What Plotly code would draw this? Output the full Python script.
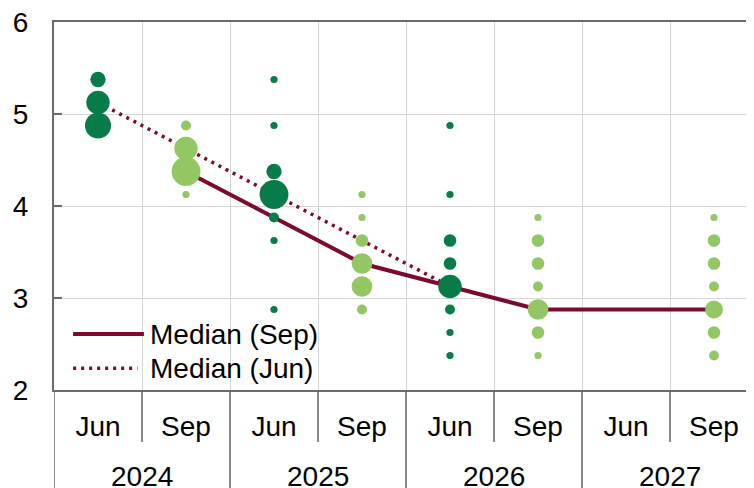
import plotly.graph_objects as go

# ---- data ----
categories = ["Jun 2024", "Sep 2024", "Jun 2025", "Sep 2025",
              "Jun 2026", "Sep 2026", "Jun 2027", "Sep 2027"]
month_labels = ["Jun", "Sep", "Jun", "Sep", "Jun", "Sep", "Jun", "Sep"]
year_labels = ["2024", "2025", "2026", "2027"]

# dot plot: rate levels and number of participants at each level
jun_2024_rates = [5.375, 5.125, 4.875]
jun_2024_counts = [4, 7, 8]
sep_2024_rates = [4.875, 4.625, 4.375, 4.125]
sep_2024_counts = [2, 7, 9, 1]
jun_2025_rates = [5.375, 4.875, 4.375, 4.125, 3.875, 3.625, 2.875]
jun_2025_counts = [1, 1, 4, 9, 2, 1, 1]
sep_2025_rates = [4.125, 3.875, 3.625, 3.375, 3.125, 2.875]
sep_2025_counts = [1, 1, 3, 6, 6, 2]
jun_2026_rates = [4.875, 4.125, 3.625, 3.375, 3.125, 2.875, 2.625, 2.375]
jun_2026_counts = [1, 1, 3, 3, 7, 2, 1, 1]
sep_2026_rates = [3.875, 3.625, 3.375, 3.125, 2.875, 2.625, 2.375]
sep_2026_counts = [1, 3, 3, 2, 6, 3, 1]
sep_2027_rates = [3.875, 3.625, 3.375, 3.125, 2.875, 2.625, 2.375]
sep_2027_counts = [1, 3, 3, 2, 5, 3, 2]

median_sep_x = ["Sep 2024", "Sep 2025", "Sep 2026", "Sep 2027"]
median_sep = [4.375, 3.375, 2.875, 2.875]
median_jun_x = ["Jun 2024", "Jun 2025", "Jun 2026"]
median_jun = [5.125, 4.125, 3.125]

# ---- style ----
DARK = "#077C48"
LIGHT = "#93C764"
LINE = "#7A0A2E"
AXIS = "#6B6B6B"
GRID = "#D4D6D9"
FONT = "Liberation Sans, Arial, sans-serif"
FS = 28


def dot_size(counts):
    return [4.5 + 2.7 * c for c in counts]


fig = go.Figure()

fig.add_trace(go.Scatter(x=median_jun_x, y=median_jun, mode="lines", name="Median (Jun)",
                         line=dict(color=LINE, width=3.5, dash="3px,5px"), showlegend=False))
fig.add_trace(go.Scatter(x=median_sep_x, y=median_sep, mode="lines", name="Median (Sep)",
                         line=dict(color=LINE, width=4), showlegend=False))

columns = [
    ("Jun 2024", jun_2024_rates, jun_2024_counts, DARK),
    ("Sep 2024", sep_2024_rates, sep_2024_counts, LIGHT),
    ("Jun 2025", jun_2025_rates, jun_2025_counts, DARK),
    ("Sep 2025", sep_2025_rates, sep_2025_counts, LIGHT),
    ("Jun 2026", jun_2026_rates, jun_2026_counts, DARK),
    ("Sep 2026", sep_2026_rates, sep_2026_counts, LIGHT),
    ("Sep 2027", sep_2027_rates, sep_2027_counts, LIGHT),
]
for cat, rates, counts, col in columns:
    fig.add_trace(go.Scatter(
        x=[cat] * len(rates), y=rates, mode="markers", name=cat,
        marker=dict(size=dot_size(counts), color=col, line=dict(width=0), opacity=1),
        showlegend=False))

shapes = []
# short separators between months, long separators between years
for i in range(len(categories)):
    b = i - 0.5
    long_sep = (i % 2 == 0)
    shapes.append(dict(type="line", xref="x", yref="paper", x0=b, x1=b,
                       y0=0, y1=-0.32 if long_sep else -0.141,
                       line=dict(color=AXIS, width=1.6)))

# manual legend samples
shapes.append(dict(type="line", xref="paper", yref="paper", x0=0.027, x1=0.127,
                   y0=0.152, y1=0.152, line=dict(color=LINE, width=4)))
shapes.append(dict(type="line", xref="paper", yref="paper", x0=0.027, x1=0.118,
                   y0=0.059, y1=0.059, line=dict(color=LINE, width=3.5, dash="3px,5px")))

annotations = []
for j, yr in enumerate(year_labels):
    annotations.append(dict(x=2 * j + 0.5, y=-0.234, xref="x", yref="paper", text=yr,
                            showarrow=False, xanchor="center", yanchor="middle",
                            font=dict(family=FONT, size=FS, color="black")))
annotations.append(dict(x=0.133, y=0.152, xref="paper", yref="paper", text="Median (Sep)",
                        showarrow=False, xanchor="left", yanchor="middle",
                        font=dict(family=FONT, size=FS, color="black")))
annotations.append(dict(x=0.133, y=0.059, xref="paper", yref="paper", text="Median (Jun)",
                        showarrow=False, xanchor="left", yanchor="middle",
                        font=dict(family=FONT, size=FS, color="black")))

# the page places the figure 8px from the top-left corner, so margins compensate
fig.update_layout(
    width=754, height=488,
    margin=dict(l=46, r=0, t=14, b=106),
    plot_bgcolor="white", paper_bgcolor="white",
    font=dict(family=FONT, size=FS, color="black"),
    shapes=shapes, annotations=annotations,
    showlegend=False,
)
fig.update_xaxes(
    type="category", categoryorder="array", categoryarray=categories,
    tickmode="array", tickvals=categories, ticktext=month_labels,
    range=[-0.5, -0.5 + 708 / 88], tickson="boundaries",
    showgrid=True, gridcolor=GRID, gridwidth=1,
    ticks="", showline=True, linecolor=AXIS, linewidth=2, mirror=True,
    ticklabelstandoff=10, tickfont=dict(family=FONT, size=FS, color="black"),
    zeroline=False,
)
fig.update_yaxes(
    range=[2, 6], tickmode="linear", tick0=2, dtick=1,
    showgrid=True, gridcolor=GRID, gridwidth=1,
    ticks="inside", ticklen=8, tickcolor=AXIS, tickwidth=2,
    showline=True, linecolor=AXIS, linewidth=2,
    ticklabelstandoff=18, ticklabeloverflow="allow",
    tickfont=dict(family=FONT, size=FS, color="black"),
    zeroline=False,
)

fig.write_html("out.html")
